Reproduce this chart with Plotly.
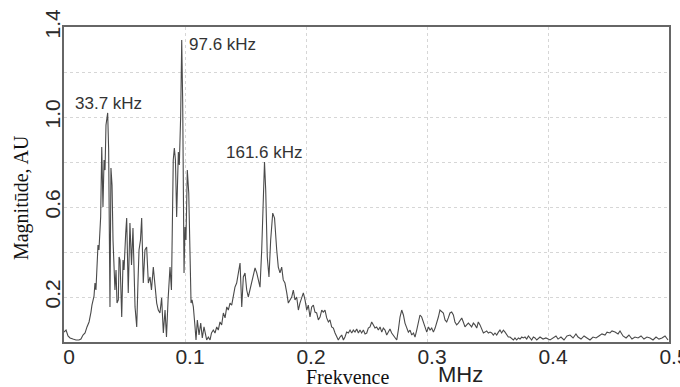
import plotly.graph_objects as go

# Frequency (MHz) and magnitude (AU)
freq_mhz = [
    0.0000, 0.0017, 0.0033, 0.0050, 0.0074, 0.0099, 0.0124, 0.0140, 0.0157, 0.0174,
    0.0190, 0.0207, 0.0223, 0.0231, 0.0248, 0.0256, 0.0264, 0.0273, 0.0281, 0.0289,
    0.0298, 0.0303, 0.0312, 0.0318, 0.0322, 0.0331, 0.0339, 0.0347, 0.0355, 0.0361,
    0.0369, 0.0376, 0.0380, 0.0388, 0.0397, 0.0405, 0.0413, 0.0421, 0.0430, 0.0438,
    0.0449, 0.0455, 0.0463, 0.0477, 0.0488, 0.0496, 0.0510, 0.0518, 0.0531, 0.0545,
    0.0558, 0.0570, 0.0587, 0.0601, 0.0612, 0.0620, 0.0632, 0.0642, 0.0655, 0.0669,
    0.0683, 0.0697, 0.0711, 0.0723, 0.0738, 0.0752, 0.0766, 0.0779, 0.0793, 0.0807,
    0.0821, 0.0835, 0.0847, 0.0860, 0.0876, 0.0888, 0.0897, 0.0903, 0.0912, 0.0921,
    0.0931, 0.0945, 0.0953, 0.0964, 0.0973, 0.0981, 0.0992, 0.1000, 0.1008, 0.1019,
    0.1031, 0.1041, 0.1050, 0.1058, 0.1069, 0.1083, 0.1091, 0.1102, 0.1116, 0.1130,
    0.1143, 0.1157, 0.1169, 0.1179, 0.1193, 0.1207, 0.1219, 0.1234, 0.1248, 0.1262,
    0.1275, 0.1289, 0.1303, 0.1317, 0.1331, 0.1345, 0.1358, 0.1372, 0.1386, 0.1399,
    0.1413, 0.1427, 0.1440, 0.1455, 0.1469, 0.1482, 0.1496, 0.1510, 0.1523, 0.1537,
    0.1551, 0.1564, 0.1579, 0.1593, 0.1606, 0.1620, 0.1634, 0.1647, 0.1657, 0.1667,
    0.1680, 0.1694, 0.1708, 0.1725, 0.1740, 0.1758, 0.1771, 0.1785, 0.1799, 0.1812,
    0.1826, 0.1841, 0.1854, 0.1868, 0.1882, 0.1895, 0.1909, 0.1923, 0.1937, 0.1950,
    0.1964, 0.1978, 0.1992, 0.2006, 0.2019, 0.2033, 0.2047, 0.2061, 0.2074, 0.2088,
    0.2102, 0.2116, 0.2130, 0.2143, 0.2157, 0.2171, 0.2185, 0.2198, 0.2212, 0.2226,
    0.2240, 0.2254, 0.2267, 0.2281, 0.2295, 0.2309, 0.2322, 0.2336, 0.2350, 0.2364,
    0.2378, 0.2391, 0.2405, 0.2419, 0.2433, 0.2446, 0.2460, 0.2474, 0.2488, 0.2502,
    0.2515, 0.2529, 0.2543, 0.2557, 0.2570, 0.2584, 0.2598, 0.2612, 0.2626, 0.2639,
    0.2653, 0.2667, 0.2681, 0.2694, 0.2708, 0.2722, 0.2736, 0.2750, 0.2763, 0.2777,
    0.2791, 0.2805, 0.2818, 0.2832, 0.2846, 0.2860, 0.2874, 0.2888, 0.2901, 0.2915,
    0.2929, 0.2942, 0.2956, 0.2970, 0.2984, 0.2998, 0.3012, 0.3025, 0.3039, 0.3053,
    0.3067, 0.3081, 0.3094, 0.3107, 0.3121, 0.3135, 0.3149, 0.3163, 0.3176, 0.3190,
    0.3204, 0.3218, 0.3231, 0.3245, 0.3259, 0.3273, 0.3287, 0.3300, 0.3314, 0.3328,
    0.3342, 0.3355, 0.3369, 0.3383, 0.3397, 0.3411, 0.3424, 0.3438, 0.3452, 0.3466,
    0.3479, 0.3493, 0.3507, 0.3521, 0.3535, 0.3548, 0.3562, 0.3576, 0.3590, 0.3603,
    0.3617, 0.3631, 0.3645, 0.3659, 0.3672, 0.3686, 0.3700, 0.3714, 0.3727, 0.3741,
    0.3755, 0.3769, 0.3783, 0.3796, 0.3810, 0.3824, 0.3838, 0.3851, 0.3865, 0.3879,
    0.3893, 0.3907, 0.3934, 0.3959, 0.3983, 0.4017, 0.4041, 0.4066, 0.4083, 0.4107,
    0.4132, 0.4157, 0.4182, 0.4207, 0.4231, 0.4248, 0.4273, 0.4298, 0.4322, 0.4347,
    0.4372, 0.4397, 0.4421, 0.4446, 0.4471, 0.4488, 0.4512, 0.4529, 0.4554, 0.4579,
    0.4595, 0.4620, 0.4645, 0.4669, 0.4694, 0.4719, 0.4744, 0.4769, 0.4793, 0.4818,
    0.4843, 0.4868, 0.4893, 0.4917, 0.4942, 0.4967, 0.4992,
]

magnitude_au = [
    0.044, 0.053, 0.027, 0.018, 0.013, 0.009, 0.009, 0.013, 0.031, 0.040,
    0.067, 0.089, 0.133, 0.164, 0.204, 0.262, 0.231, 0.311, 0.431, 0.409,
    0.520, 0.556, 0.867, 0.676, 0.600, 0.809, 0.764, 0.964, 1.000, 1.018,
    0.853, 0.453, 0.156, 0.773, 0.698, 0.453, 0.276, 0.231, 0.320, 0.173,
    0.187, 0.378, 0.364, 0.111, 0.364, 0.320, 0.484, 0.551, 0.218, 0.529,
    0.342, 0.507, 0.156, 0.067, 0.276, 0.409, 0.453, 0.551, 0.262, 0.409,
    0.422, 0.262, 0.289, 0.231, 0.333, 0.231, 0.173, 0.142, 0.129, 0.196,
    0.040, 0.142, 0.022, 0.187, 0.333, 0.231, 0.587, 0.809, 0.862, 0.809,
    0.556, 0.844, 0.787, 1.000, 1.342, 1.062, 0.307, 0.511, 0.453, 0.764,
    0.662, 0.396, 0.173, 0.187, 0.156, 0.067, 0.009, 0.098, 0.031, 0.084,
    0.018, 0.067, 0.031, 0.009, 0.022, 0.009, 0.040, 0.053, 0.040, 0.067,
    0.053, 0.089, 0.076, 0.129, 0.107, 0.156, 0.142, 0.173, 0.164, 0.200,
    0.244, 0.262, 0.307, 0.351, 0.156, 0.289, 0.307, 0.231, 0.200, 0.231,
    0.262, 0.298, 0.329, 0.307, 0.276, 0.244, 0.409, 0.676, 0.800, 0.676,
    0.378, 0.289, 0.453, 0.573, 0.551, 0.409, 0.333, 0.307, 0.333, 0.276,
    0.262, 0.218, 0.173, 0.187, 0.200, 0.231, 0.187, 0.200, 0.142, 0.173,
    0.200, 0.218, 0.187, 0.142, 0.164, 0.111, 0.156, 0.164, 0.133, 0.129,
    0.098, 0.111, 0.142, 0.133, 0.142, 0.107, 0.089, 0.098, 0.067, 0.062,
    0.040, 0.022, 0.009, 0.022, 0.031, 0.009, 0.022, 0.044, 0.040, 0.053,
    0.040, 0.053, 0.044, 0.058, 0.040, 0.053, 0.040, 0.053, 0.036, 0.040,
    0.062, 0.067, 0.089, 0.076, 0.062, 0.067, 0.053, 0.067, 0.044, 0.062,
    0.053, 0.031, 0.044, 0.058, 0.040, 0.031, 0.018, 0.009, 0.053, 0.111,
    0.142, 0.120, 0.084, 0.062, 0.044, 0.053, 0.031, 0.040, 0.022, 0.053,
    0.098, 0.120, 0.111, 0.089, 0.062, 0.044, 0.067, 0.053, 0.062, 0.044,
    0.062, 0.084, 0.111, 0.142, 0.133, 0.129, 0.098, 0.089, 0.107, 0.129,
    0.133, 0.120, 0.089, 0.076, 0.084, 0.098, 0.107, 0.089, 0.067, 0.076,
    0.084, 0.076, 0.067, 0.084, 0.076, 0.062, 0.089, 0.076, 0.053, 0.040,
    0.044, 0.049, 0.040, 0.044, 0.040, 0.031, 0.040, 0.031, 0.044, 0.053,
    0.040, 0.053, 0.044, 0.031, 0.022, 0.022, 0.013, 0.009, 0.018, 0.009,
    0.018, 0.013, 0.022, 0.018, 0.022, 0.013, 0.027, 0.018, 0.009, 0.022,
    0.018, 0.009, 0.022, 0.013, 0.018, 0.009, 0.018, 0.027, 0.013, 0.022,
    0.009, 0.027, 0.031, 0.018, 0.036, 0.022, 0.013, 0.027, 0.018, 0.009,
    0.022, 0.018, 0.027, 0.036, 0.031, 0.044, 0.040, 0.049, 0.044, 0.036,
    0.049, 0.027, 0.018, 0.031, 0.013, 0.022, 0.018, 0.027, 0.013, 0.022,
    0.018, 0.009, 0.022, 0.013, 0.018, 0.027, 0.009,
]

# Peak labels
peak_labels = ["33.7 kHz", "97.6 kHz", "161.6 kHz"]
peak_label_x = [0.0364, 0.1017, 0.1661]
peak_label_y = [1.062, 1.324, 0.844]
peak_label_anchor = ["center", "left", "center"]

x_tick_vals = [0, 0.1, 0.2, 0.3, 0.4, 0.5]
x_tick_text = ["0", "0.1", "0.2", "0.3", "0.4", "0.5"]
y_tick_vals = [0.2, 0.4, 0.6, 0.8, 1.0, 1.2, 1.4]
y_tick_text = ["0.2", "", "0.6", "", "1.0", "", "1.4"]

SANS = "Liberation Sans, Arial, sans-serif"
SERIF = "Liberation Serif, Times New Roman, serif"

fig = go.Figure()
fig.add_trace(go.Scatter(
    x=freq_mhz, y=magnitude_au, mode="lines",
    line=dict(color="#4a4a4a", width=1.1),
    showlegend=False, hoverinfo="skip",
))

annotations = []
for t, x, y, a in zip(peak_labels, peak_label_x, peak_label_y, peak_label_anchor):
    annotations.append(dict(
        x=x, y=y, xref="x", yref="y", text=t, showarrow=False,
        xanchor=a, yanchor="middle",
        font=dict(family=SANS, size=17, color="#333333"),
    ))

annotations += [
    dict(x=0.469, y=-0.112, xref="paper", yref="paper", text="Frekvence",
         showarrow=False, xanchor="center", yanchor="middle",
         font=dict(family=SERIF, size=20, color="#111111")),
    dict(x=0.655, y=-0.102, xref="paper", yref="paper", text="MHz",
         showarrow=False, xanchor="center", yanchor="middle",
         font=dict(family=SANS, size=22, color="#222222")),
    dict(x=-0.071, y=0.457, xref="paper", yref="paper", text="Magnitūde, AU",
         showarrow=False, textangle=-90, xanchor="center", yanchor="middle",
         font=dict(family=SERIF, size=20, color="#111111")),
]

fig.update_layout(
    width=680, height=387,
    margin=dict(l=64, r=11, t=27, b=45, autoexpand=False),
    paper_bgcolor="white", plot_bgcolor="white",
    annotations=annotations,
    xaxis=dict(
        range=[0, 0.5], tickvals=x_tick_vals, ticktext=x_tick_text,
        showgrid=True, gridcolor="#d6d6d6", griddash="dot", gridwidth=1,
        showline=True, linecolor="#666666", linewidth=1.5, mirror=True,
        zeroline=False, ticks="", ticklabelstandoff=-5, ticklabelshift=5,
        ticklabeloverflow="allow", automargin=False,
        tickfont=dict(family=SANS, size=21, color="#2a2a2a"),
    ),
    yaxis=dict(
        range=[0, 1.4], tickvals=y_tick_vals, ticktext=y_tick_text,
        showgrid=True, gridcolor="#d6d6d6", griddash="dot", gridwidth=1,
        showline=True, linecolor="#666666", linewidth=1.5, mirror=True,
        zeroline=False, ticks="", tickangle=-90, ticklabelstandoff=-6,
        ticklabeloverflow="allow", automargin=False,
        tickfont=dict(family=SANS, size=21, color="#2a2a2a"),
    ),
)

fig.write_html("out.html")
